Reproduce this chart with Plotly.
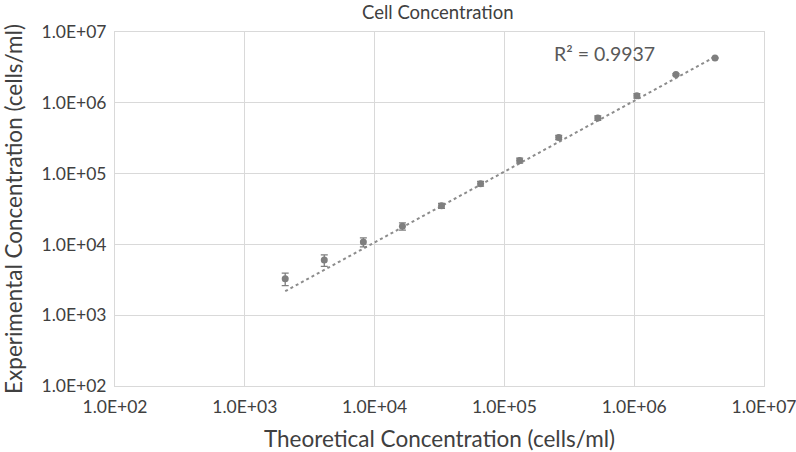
import numpy as np
import plotly.graph_objects as go

theoretical = [2048, 4096, 8192, 16384, 32768, 65536, 131072, 262144, 524288, 1048576, 2097152, 4194304]
experimental = [3270, 6000, 10800, 18000, 35200, 72000, 153000, 323000, 608000, 1256000, 2510000, 4290000]
error = [650, 1100, 1600, 2100, 2800, 5500, 12000, 22000, 45000, 90000, 80000, 60000]
tick_vals = [1e2, 1e3, 1e4, 1e5, 1e6, 1e7]
tick_text = ["1.0E+02", "1.0E+03", "1.0E+04", "1.0E+05", "1.0E+06", "1.0E+07"]
r2_text = "R² = 0.9937"

# linear trendline through the origin (least squares), drawn on log axes
xs = np.array(theoretical, dtype=float)
ys = np.array(experimental, dtype=float)
m = float(np.sum(xs * ys) / np.sum(xs * xs))
tx = np.array([xs.min(), xs.max()])
ty = m * tx

FONT = "Lato"
grey = "#7f7f7f"
txt = "#404040"
fig = go.Figure()
fig.add_trace(go.Scatter(x=tx, y=ty, mode="lines",
                         line=dict(color="#8c8c8c", width=2, dash="dot"),
                         hoverinfo="skip", showlegend=False))
fig.add_trace(go.Scatter(x=theoretical, y=experimental, mode="markers",
                         marker=dict(color=grey, size=7),
                         error_y=dict(type="data", array=error, color=grey, thickness=1.3, width=3.5),
                         showlegend=False))

fig.add_annotation(x=np.log10(5.9e5), y=np.log10(5.0e6), xref="x", yref="y",
                   text=r2_text, showarrow=False,
                   font=dict(family=FONT, size=19.5, color="#595959"))

axis_common = dict(type="log", tickvals=tick_vals, ticktext=tick_text,
                   showgrid=True, gridcolor="#d9d9d9", gridwidth=1,
                   showline=True, linecolor="#d9d9d9", mirror=True,
                   zeroline=False, ticks="", automargin=False,
                   ticklabeloverflow="allow",
                   tickfont=dict(family=FONT, size=17.5, color=txt))

fig.update_layout(
    width=796, height=452,
    paper_bgcolor="white", plot_bgcolor="white",
    margin=dict(l=115, r=32, t=32, b=66),
    title=dict(text="Cell Concentration", x=0.55, xanchor="center", y=0.973, yanchor="middle",
               font=dict(family=FONT, size=18.5, color=txt)),
    xaxis=dict(range=[2, 7], ticklabelstandoff=5,
               title=dict(text="Theoretical Concentration (cells/ml)",
                          font=dict(family=FONT, size=22.5, color=txt)),
               **axis_common),
    yaxis=dict(range=[2, 7], ticklabelstandoff=4,
               title=dict(text="Experimental Concentration (cells/ml)",
                          font=dict(family=FONT, size=22.5, color=txt)),
               **axis_common),
)

fig.write_html("out.html", config={"displayModeBar": False},
               post_script="document.body.style.margin='0';")
